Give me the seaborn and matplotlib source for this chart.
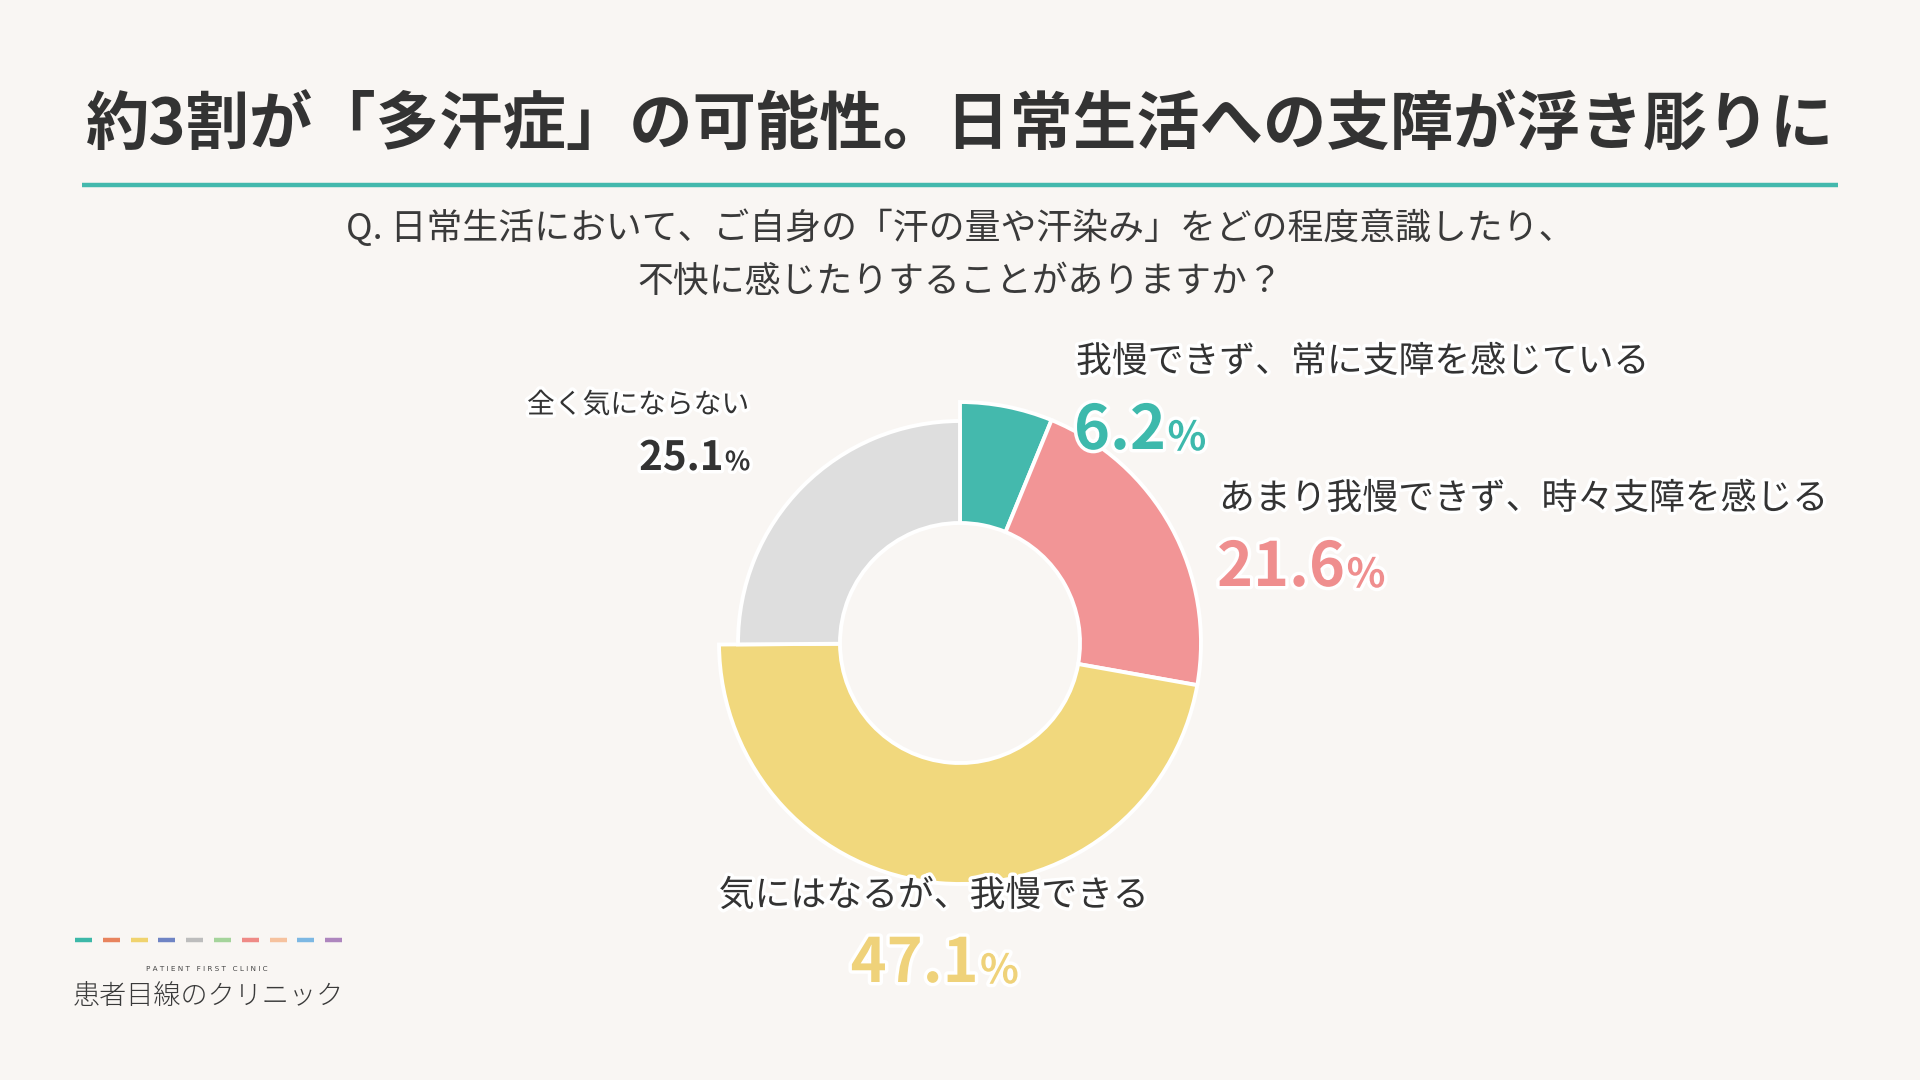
import matplotlib
matplotlib.use("Agg")
import matplotlib.pyplot as plt
import matplotlib.patheffects as pe
import seaborn as sns

# --- data ---
labels = [
    "我慢できず、常に支障を感じている",
    "あまり我慢できず、時々支障を感じる",
    "気にはなるが、我慢できる",
    "全く気にならない",
]
values = [6.2, 21.6, 47.1, 25.1]
slice_colors = ["#44B9AD", "#F29596", "#F1D87D", "#DEDEDE"]
number_colors = ["#3DB9AC", "#EF8E8E", "#EFD27A", "#333333"]

title = "約3割が「多汗症」の可能性。日常生活への支障が浮き彫りに"
question = ["Q. 日常生活において、ご自身の「汗の量や汗染み」をどの程度意識したり、",
            "不快に感じたりすることがありますか？"]
logo_colors = ["#3DB8A8", "#E8835D", "#F0D36E", "#6F84C4", "#BDBDBD",
               "#A5D49B", "#EF8A86", "#F6C29E", "#7DB8E3", "#AE86BE"]

BG = "#F9F6F3"
DARK = "#333333"

sns.set_theme(style="white", rc={"figure.facecolor": BG, "axes.facecolor": BG})
plt.rcParams["font.family"] = ["Noto Sans CJK JP", "DejaVu Sans"]

fig = plt.figure(figsize=(19.2, 10.8), dpi=100)
ax = fig.add_axes([0, 0, 1, 1])

H = 1080


def Y(y):
    # pixel row (from top) -> data y
    return H - y


halo = [pe.withStroke(linewidth=5, foreground="white")]

# donut
wedges, _ = ax.pie(values, colors=slice_colors, startangle=90, counterclock=False,
                   radius=241, center=(960, Y(643)),
                   wedgeprops=dict(width=121, edgecolor="white", linewidth=2.8))
# last slice ("全く気にならない") is drawn a bit thinner
wedges[3].set_radius(222)
wedges[3].set_width(102)

ax.set_xlim(0, 1920)
ax.set_ylim(0, H)
ax.set_aspect("equal")
ax.axis("off")

# title + rule
ax.text(960, Y(126), title, ha="center", va="center", fontsize=45.6,
        fontweight="bold", color=DARK)
ax.plot([82, 1838], [Y(185), Y(185)], color="#44B9AD", lw=3.2, solid_capstyle="butt")

ax.text(960, Y(228), question[0], ha="center", va="center", fontsize=25.8, color="#3A3A3A")
ax.text(960, Y(282), question[1], ha="center", va="center", fontsize=25.8, color="#3A3A3A")


def number(x, y, val, color, size, psize, align="left"):
    num = ax.text(x, Y(y), f"{val:.1f}", ha="left", va="baseline", fontsize=size,
                  fontweight="bold", color=color, path_effects=halo)
    pct = ax.annotate("%", xy=(1, 0), xycoords=num, xytext=(1, 2),
                      textcoords="offset points", ha="left", va="bottom",
                      fontsize=psize, fontweight="bold", color=color, path_effects=halo)
    if align != "left":
        r = fig.canvas.get_renderer()
        w = num.get_window_extent(r).width + pct.get_window_extent(r).width
        shift = w / 2 if align == "center" else w
        num.set_x(x - shift)


# labels
ax.text(1076, Y(362), labels[0], ha="left", va="center", fontsize=25.8,
        color=DARK, path_effects=halo)
number(1074, 449, values[0], number_colors[0], 44, 29)

ax.text(1219, Y(499), labels[1], ha="left", va="center", fontsize=25.8,
        color=DARK, path_effects=halo)
number(1217, 586, values[1], number_colors[1], 44, 29)

ax.text(934, Y(896), labels[2], ha="center", va="center", fontsize=25.8,
        color=DARK, path_effects=halo)
number(934, 982, values[2], number_colors[2], 44, 29, align="center")

ax.text(749, Y(405), labels[3], ha="right", va="center", fontsize=20,
        color=DARK, path_effects=halo)
number(749, 470, values[3], number_colors[3], 29, 19, align="right")

# logo
for i, c in enumerate(logo_colors):
    x0 = 75 + i * 27.8
    ax.plot([x0, x0 + 17], [Y(940), Y(940)], color=c, lw=3.2, solid_capstyle="butt")
ax.text(207, Y(969), "P A T I E N T   F I R S T   C L I N I C", ha="center", va="center",
        fontsize=5.2, color="#444444", family=["DejaVu Sans"])
ax.text(73, Y(997), "患者目線のクリニック", ha="left", va="center",
        fontsize=19.5, fontweight="light", color="#3A3A3A")

fig.savefig("out.png", dpi=100, facecolor=BG)
